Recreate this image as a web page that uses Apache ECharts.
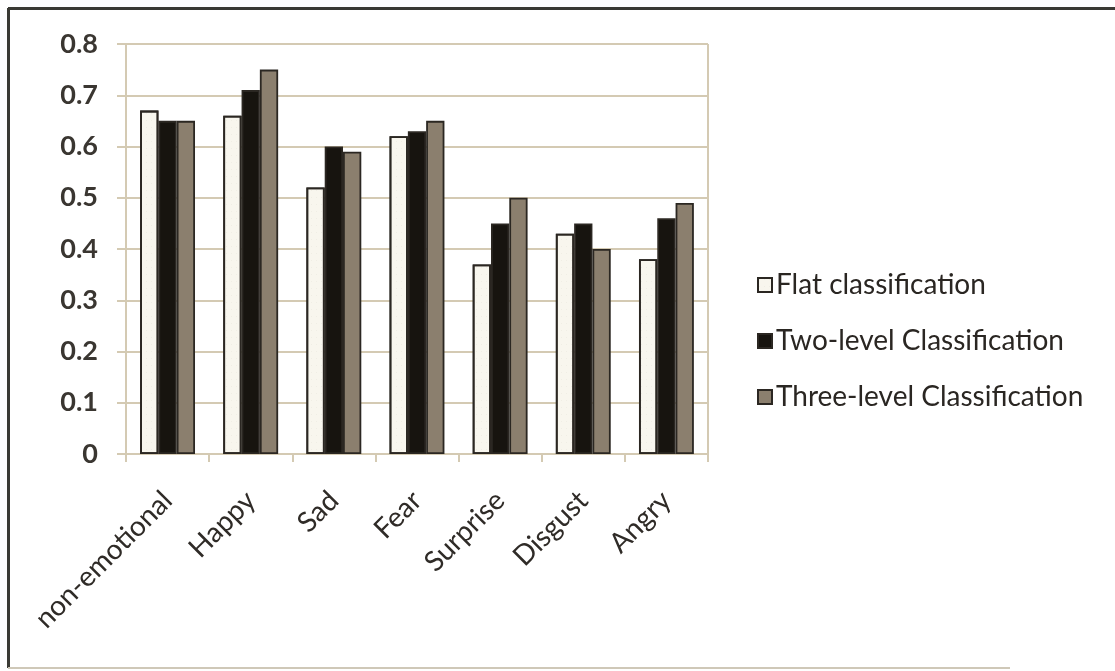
<!DOCTYPE html>
<html>
<head>
<meta charset="utf-8">
<script src="https://cdn.jsdelivr.net/npm/echarts@6/dist/echarts.min.js"></script>
<style>
  html, body { margin: 0; padding: 0; background: #ffffff; }
  #chart { width: 1115px; height: 671px; }
</style>
</head>
<body>
<div id="chart"></div>
<script>
// Emotion categories on the x axis
const categories = ['non-emotional', 'Happy', 'Sad', 'Fear', 'Surprise', 'Disgust', 'Angry'];

// Accuracy per classification scheme
const flatValues = [0.67, 0.66, 0.52, 0.62, 0.37, 0.43, 0.38];
const twoLevelValues = [0.65, 0.71, 0.60, 0.63, 0.45, 0.45, 0.46];
const threeLevelValues = [0.65, 0.75, 0.59, 0.65, 0.50, 0.40, 0.49];

const seriesNames = ['Flat classification', 'Two-level Classification', 'Three-level Classification'];

const yTicks = { min: 0, max: 0.8, interval: 0.1 };

const fontFamily = 'Lato, "Open Sans", sans-serif';
const gridColor = '#d4cab3';
const edgeColor = '#2b2722';

const chart = echarts.init(document.getElementById('chart'), null, { renderer: 'canvas' });

function barSeries(name, data, fill, decal) {
  return {
    name: name,
    type: 'bar',
    data: data,
    barGap: '0%',
    barCategoryGap: '34%',
    itemStyle: {
      color: fill,
      borderColor: edgeColor,
      borderWidth: 1.8,
      decal: decal
    },
    emphasis: { disabled: true }
  };
}

const option = {
  animation: false,
  backgroundColor: '#ffffff',
  aria: { enabled: false },
  grid: { left: 126, right: 407, top: 44, bottom: 217, containLabel: false },
  legend: {
    orient: 'vertical',
    left: 752,
    top: 266,
    itemWidth: 14,
    itemHeight: 14,
    itemGap: 28,
    icon: 'rect',
    textStyle: { fontFamily: fontFamily, fontSize: 28, color: '#2a2622', padding: [0, 0, 0, -1] },
    data: seriesNames.map(n => ({ name: n, itemStyle: { borderColor: edgeColor, borderWidth: 2 } }))
  },
  xAxis: {
    type: 'category',
    data: categories,
    axisLine: { show: true, lineStyle: { color: gridColor, width: 2 } },
    axisTick: { show: true, alignWithLabel: false, length: 8, lineStyle: { color: gridColor, width: 2 } },
    axisLabel: {
      rotate: 45,
      interval: 0,
      margin: 42,
      fontFamily: fontFamily,
      fontSize: 28,
      color: '#2f2b27'
    },
    splitLine: { show: false }
  },
  yAxis: {
    type: 'value',
    min: yTicks.min,
    max: yTicks.max,
    interval: yTicks.interval,
    axisLine: { show: true, lineStyle: { color: gridColor, width: 2 } },
    axisTick: { show: true, inside: false, length: 9, lineStyle: { color: gridColor, width: 2 } },
    axisLabel: {
      margin: 28,
      fontFamily: fontFamily,
      fontSize: 27,
      fontWeight: 'bold',
      color: '#3a3631',
      formatter: v => (v === 0 ? '0' : v.toFixed(1))
    },
    splitLine: { show: true, lineStyle: { color: gridColor, width: 2 } }
  },
  series: [
    barSeries(seriesNames[0], flatValues, '#f8f6ee', {
      symbol: 'circle',
      symbolSize: 0.25,
      color: 'rgba(190, 180, 160, 0.35)',
      dashArrayX: [3, 2],
      dashArrayY: [3, 4]
    }),
    barSeries(seriesNames[1], twoLevelValues, '#17140f'),
    barSeries(seriesNames[2], threeLevelValues, '#8b7f6e')
  ],
  graphic: [
    // outer frame: top and left edges dark, bottom edge faint
    { type: 'line', shape: { x1: 8, y1: 8.5, x2: 1115, y2: 8.5 }, style: { stroke: '#3a3a34', lineWidth: 3 }, silent: true },
    { type: 'line', shape: { x1: 8.5, y1: 8, x2: 8.5, y2: 668 }, style: { stroke: '#3a3a34', lineWidth: 3 }, silent: true },
    { type: 'line', shape: { x1: 8, y1: 668, x2: 1010, y2: 668 }, style: { stroke: '#cfc8b8', lineWidth: 2 }, silent: true },
    // right border of the plot area
    { type: 'line', shape: { x1: 708, y1: 44, x2: 708, y2: 454 }, style: { stroke: gridColor, lineWidth: 2 }, silent: true }
  ]
};

chart.setOption(option);
</script>
</body>
</html>
